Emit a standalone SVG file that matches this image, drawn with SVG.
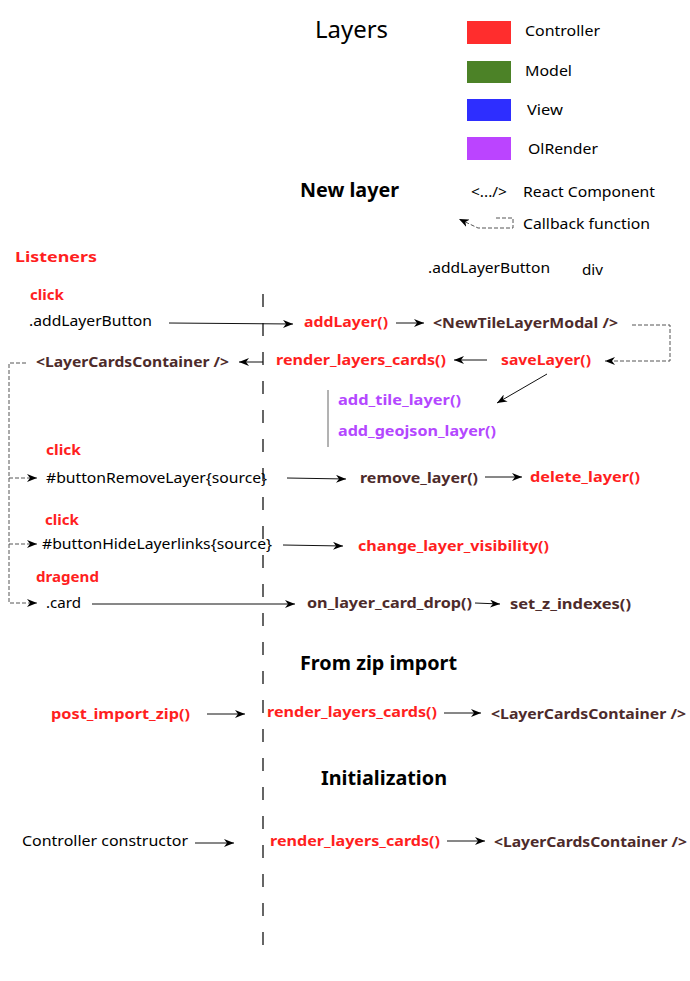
<svg xmlns="http://www.w3.org/2000/svg" width="690" height="981" viewBox="0 0 690 981">
<style>
text{font-family:"Noto Sans","Open Sans","DejaVu Sans",sans-serif;}
.n{font-size:15px;fill:#000;}
.b{font-size:15px;font-weight:bold;}
.r{fill:#ff1f1f;}
.br{fill:#4d2b2b;}
.p{fill:#b447ff;}
.h{font-size:19px;font-weight:bold;fill:#000;}
.c{fill:none;stroke:#111;stroke-width:1;}
.d{fill:none;stroke:#555;stroke-width:1;stroke-dasharray:4 2;}
</style>
<defs>
<marker id="ah" viewBox="0 0 10 8" refX="10" refY="4" markerWidth="10" markerHeight="8" markerUnits="userSpaceOnUse" orient="auto"><path d="M0,0 L10,4 L0,8 L3,4 z" fill="#000"/></marker>
</defs>
<rect width="690" height="981" fill="#fff"/>

<g id="legend">
<text x="315" y="38" font-size="23" textLength="73" lengthAdjust="spacingAndGlyphs">Layers</text>
<rect x="467" y="21" width="44" height="23" fill="#ff2d2d"/>
<rect x="467" y="61" width="44" height="22" fill="#4c8227"/>
<rect x="467" y="99" width="44" height="22" fill="#2e2eff"/>
<rect x="467" y="137" width="44" height="23" fill="#bb44ff"/>
<text class="n" x="525" y="36" textLength="75" lengthAdjust="spacingAndGlyphs">Controller</text>
<text class="n" x="525" y="76" textLength="47" lengthAdjust="spacingAndGlyphs">Model</text>
<text class="n" x="527" y="115" textLength="36" lengthAdjust="spacingAndGlyphs">View</text>
<text class="n" x="528" y="154" textLength="70" lengthAdjust="spacingAndGlyphs">OlRender</text>
<text class="n" x="471" y="197" textLength="36" lengthAdjust="spacingAndGlyphs">&lt;.../&gt;</text>
<text class="n" x="523" y="197" textLength="132" lengthAdjust="spacingAndGlyphs">React Component</text>
<path class="d" d="M496,218 H513 V228 H478 L459,219" marker-end="url(#ah)"/>
<text class="n" x="523" y="229" textLength="127" lengthAdjust="spacingAndGlyphs">Callback function</text>
</g>

<g id="headings">
<text class="h" x="300" y="197" textLength="99" lengthAdjust="spacingAndGlyphs">New layer</text>
<text class="h" x="300" y="670" textLength="157" lengthAdjust="spacingAndGlyphs">From zip import</text>
<text class="h" x="321" y="785" textLength="126" lengthAdjust="spacingAndGlyphs">Initialization</text>
<text class="b r" x="15" y="262" font-size="17" textLength="82" lengthAdjust="spacingAndGlyphs">Listeners</text>
<text class="n" x="428" y="273" textLength="122" lengthAdjust="spacingAndGlyphs">.addLayerButton</text>
<text class="n" x="582" y="275" textLength="21" lengthAdjust="spacingAndGlyphs">div</text>
</g>

<g id="boundary">
<line x1="263" y1="294" x2="263" y2="946" stroke="#000" stroke-width="1.2" stroke-dasharray="13 16"/>
</g>

<g id="connectors">
<path class="c" d="M169,323 L293,324" marker-end="url(#ah)"/>
<path class="c" d="M396,323 H424" marker-end="url(#ah)"/>
<path class="d" d="M632,325 H670 V361 H605" marker-end="url(#ah)"/>
<path class="c" d="M487,360 H454" marker-end="url(#ah)"/>
<path class="c" d="M263,362 H239" marker-end="url(#ah)"/>
<path class="c" d="M547,374 L497,403" marker-end="url(#ah)"/>
<line x1="328" y1="390" x2="328" y2="447" stroke="#666" stroke-width="1"/>
<path class="d" d="M26,363 H9 V603 H37" marker-end="url(#ah)"/>
<path class="d" d="M9,478 H37" marker-end="url(#ah)"/>
<path class="d" d="M9,544 H37" marker-end="url(#ah)"/>
<path class="c" d="M287,478 L346,479" marker-end="url(#ah)"/>
<path class="c" d="M485,477 H522" marker-end="url(#ah)"/>
<path class="c" d="M283,545 L343,546" marker-end="url(#ah)"/>
<path class="c" d="M92,604 H295" marker-end="url(#ah)"/>
<path class="c" d="M475,603 L500,604" marker-end="url(#ah)"/>
<path class="c" d="M207,714 H245" marker-end="url(#ah)"/>
<path class="c" d="M444,713 H481" marker-end="url(#ah)"/>
<path class="c" d="M195,843 H234" marker-end="url(#ah)"/>
<path class="c" d="M447,841 H485" marker-end="url(#ah)"/>
</g>

<g id="n-click1"><text class="b r" x="30" y="300" textLength="34" lengthAdjust="spacingAndGlyphs">click</text></g>
<g id="n-addLayerButton"><text class="n" x="29" y="326" textLength="123" lengthAdjust="spacingAndGlyphs">.addLayerButton</text></g>
<g id="n-addLayer"><text class="b r" x="304" y="327" textLength="84" lengthAdjust="spacingAndGlyphs">addLayer()</text></g>
<g id="n-newTileLayerModal"><text class="b br" x="433" y="328" textLength="185" lengthAdjust="spacingAndGlyphs">&lt;NewTileLayerModal /&gt;</text></g>
<g id="n-saveLayer"><text class="b r" x="501" y="365" textLength="90" lengthAdjust="spacingAndGlyphs">saveLayer()</text></g>
<g id="n-render1"><text class="b r" x="276" y="365" textLength="170" lengthAdjust="spacingAndGlyphs">render_layers_cards()</text></g>
<g id="n-container1"><text class="b br" x="36" y="367" textLength="193" lengthAdjust="spacingAndGlyphs">&lt;LayerCardsContainer /&gt;</text></g>
<g id="n-addTile"><text class="b p" x="338" y="405" textLength="123" lengthAdjust="spacingAndGlyphs">add_tile_layer()</text></g>
<g id="n-addGeojson"><text class="b p" x="338" y="436" textLength="158" lengthAdjust="spacingAndGlyphs">add_geojson_layer()</text></g>
<g id="n-click2"><text class="b r" x="46" y="455" textLength="35" lengthAdjust="spacingAndGlyphs">click</text></g>
<g id="n-btnRemove"><text class="n" x="46" y="483" textLength="221" lengthAdjust="spacingAndGlyphs">#buttonRemoveLayer{source}</text></g>
<g id="n-removeLayer"><text class="b br" x="360" y="483" textLength="118" lengthAdjust="spacingAndGlyphs">remove_layer()</text></g>
<g id="n-deleteLayer"><text class="b r" x="530" y="482" textLength="110" lengthAdjust="spacingAndGlyphs">delete_layer()</text></g>
<g id="n-click3"><text class="b r" x="45" y="525" textLength="34" lengthAdjust="spacingAndGlyphs">click</text></g>
<g id="n-btnHide"><text class="n" x="42" y="549" textLength="230" lengthAdjust="spacingAndGlyphs">#buttonHideLayerlinks{source}</text></g>
<g id="n-changeVis"><text class="b r" x="358" y="551" textLength="191" lengthAdjust="spacingAndGlyphs">change_layer_visibility()</text></g>
<g id="n-dragend"><text class="b r" x="36" y="582" textLength="63" lengthAdjust="spacingAndGlyphs">dragend</text></g>
<g id="n-card"><text class="n" x="46" y="608" textLength="35" lengthAdjust="spacingAndGlyphs">.card</text></g>
<g id="n-onDrop"><text class="b br" x="307" y="608" textLength="165" lengthAdjust="spacingAndGlyphs">on_layer_card_drop()</text></g>
<g id="n-setZ"><text class="b br" x="510" y="609" textLength="121" lengthAdjust="spacingAndGlyphs">set_z_indexes()</text></g>
<g id="n-postImport"><text class="b r" x="51" y="719" textLength="139" lengthAdjust="spacingAndGlyphs">post_import_zip()</text></g>
<g id="n-render2"><text class="b r" x="267" y="717" textLength="170" lengthAdjust="spacingAndGlyphs">render_layers_cards()</text></g>
<g id="n-container2"><text class="b br" x="491" y="719" textLength="195" lengthAdjust="spacingAndGlyphs">&lt;LayerCardsContainer /&gt;</text></g>
<g id="n-ctor"><text class="n" x="22" y="846" textLength="166" lengthAdjust="spacingAndGlyphs">Controller constructor</text></g>
<g id="n-render3"><text class="b r" x="270" y="846" textLength="170" lengthAdjust="spacingAndGlyphs">render_layers_cards()</text></g>
<g id="n-container3"><text class="b br" x="494" y="847" textLength="193" lengthAdjust="spacingAndGlyphs">&lt;LayerCardsContainer /&gt;</text></g>
</svg>
